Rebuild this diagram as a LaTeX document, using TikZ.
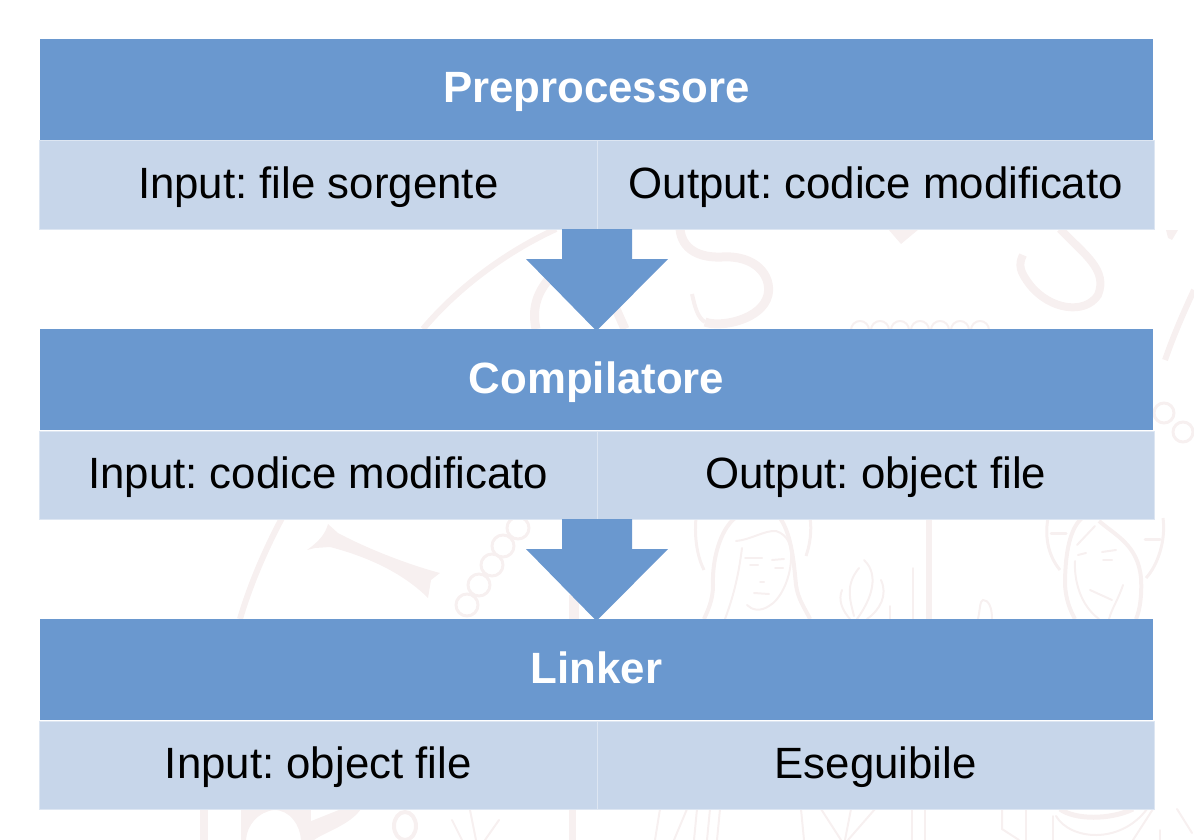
\documentclass[tikz,border=0pt]{standalone}
\usepackage{fontspec}
\setmainfont{Liberation Sans}
\usetikzlibrary{calc}
\definecolor{headblue}{HTML}{6A98CF}
\definecolor{cellblue}{HTML}{C7D6EA}
\definecolor{celledge}{HTML}{DDE6F2}
\definecolor{markpink}{HTML}{F7F0F0}
\tikzset{
  headbox/.style={fill=headblue,text=white,font=\fontsize{43.8}{44}\selectfont\bfseries,outer sep=0pt,
    minimum width=1113pt,minimum height=101pt,inner sep=0pt,anchor=north west,text height=33pt,text depth=6pt},
  cellbox/.style={fill=cellblue,draw=celledge,line width=1pt,font=\fontsize{43.8}{44}\selectfont,outer sep=0pt,
    minimum width=557.5pt,minimum height=88pt,inner sep=0pt,anchor=north west,text height=32pt,text depth=6pt},
  stagearrow/.style={fill=headblue},
  wmark/.style={draw=markpink,line width=2pt,line cap=round},
  wbold/.style={wmark,line width=6pt,line cap=butt},
  wfill/.style={fill=markpink}
}
\begin{document}
\frenchspacing
\begin{tikzpicture}[x=1pt,y=-1pt]
\useasboundingbox (0,0) rectangle (1194,840);
\newcommand{\stage}[5]{
  \node[headbox] (#1) at (40,#2) {#3};
  \node[cellbox] (#1in) at (39.5,#2+102) {#4};
  \node[cellbox] (#1out) at (597,#2+102) {#5};
}

% faint watermark behind everything
% top band: letters
\draw[wbold] (423,329) .. controls (460,285) and (510,250) .. (556,229);
\draw[wbold,line width=9pt] (536,329) .. controls (532,310) and (536,295) .. (548,280);
\draw[wbold,line width=9pt] (612,300) -- (625,329);
\draw[wbold,line width=9pt] (680,229) .. controls (682,250) and (700,258) .. (722,257)
  .. controls (755,255) and (772,275) .. (768,295) .. controls (762,320) and (720,328) .. (705,322);
\draw[wbold,line width=4pt] (705,322) .. controls (698,318) and (695,308) .. (692,294);
\fill[wfill] (888,229) -- (901,244) -- (919,229) -- cycle;
\draw[wbold,line width=8pt] (1060,229) .. controls (1085,255) and (1108,270) .. (1098,295)
  .. controls (1085,315) and (1050,310) .. (1030,285) .. controls (1020,272) and (1018,265) .. (1023,255);
\draw[wbold] (1194,290) .. controls (1180,320) and (1172,340) .. (1165,360);
\fill[wfill] (1166,230) -- (1178,230) -- (1172,240) -- (1168,238) -- cycle;
\foreach \x in {860,880,...,980} {
  \draw[wmark] (\x,330) circle (9);
}
\foreach \x/\y in {1164/413,1183/432} {
  \draw[wmark,line width=3pt] (\x,\y) circle (10);
}
% middle band: bar, beads, faces
\draw[wbold] (282,518) .. controls (265,550) and (250,585) .. (240,619);
\fill[wfill] (328,524) -- (338,533) .. controls (370,550) and (410,565) .. (440,573) -- (431,580)
  -- (428,598) .. controls (410,580) and (380,560) .. (330,547) -- (315,548) -- (307,550)
  .. controls (318,542) and (325,535) .. (328,524) -- cycle;
\foreach \x/\y in {518/528,503/546,492/565,479/585,467/605} {
  \draw[wmark,line width=3pt] (\x,\y) circle (11);
}
\fill[wfill] (569,595) rectangle (579,619);
% left face
\draw[wbold,line width=3pt] (696,518) .. controls (694,540) and (698,558) .. (704,570);
\draw[wbold,line width=3pt] (810,518) .. controls (812,530) and (810,545) .. (806,556);
\draw[wbold,line width=4pt] (735,518) .. controls (720,530) and (712,560) .. (713,585) .. controls (713,600) and (708,610) .. (704,619);
\draw[wbold,line width=4pt] (780,518) .. controls (792,535) and (794,565) .. (796,585) .. controls (798,600) and (806,610) .. (810,619);
\draw[wmark] (736,541) .. controls (750,540) and (765,530) .. (776,531) .. controls (788,535) and (792,545) .. (791,560)
  .. controls (790,580) and (780,600) .. (769,606) .. controls (760,612) and (752,610) .. (747,605);
\draw[wmark] (742,548) .. controls (738,580) and (732,600) .. (725,619);
\draw[wmark] (745,558) -- (762,558);
\draw[wmark] (750,565) -- (758,565);
\draw[wmark] (772,560) -- (784,559);
\draw[wmark] (775,568) -- (783,568);
\draw[wmark] (760,582) -- (764,582);
\draw[wmark] (754,593) -- (769,594);
% flame
\draw[wmark] (864,560) .. controls (875,570) and (878,590) .. (857,619);
\draw[wmark] (859,568) .. controls (845,585) and (850,600) .. (854,616);
\draw[wmark] (842,590) .. controls (838,600) and (842,610) .. (850,619);
\draw[wmark] (881,580) .. controls (888,595) and (880,610) .. (867,619);
\draw[wmark] (890,606) -- (890,619);
\draw[wmark] (913,568) -- (913,619);
\fill[wfill] (926,518) rectangle (932,619);
% hand
\draw[wmark] (978,619) .. controls (980,610) and (980,600) .. (983,600) .. controls (988,600) and (992,606) .. (992,619);
% right face
\draw[wbold,line width=3pt] (1048,518) .. controls (1044,540) and (1050,558) .. (1060,570);
\draw[wbold,line width=3pt] (1163,518) .. controls (1166,540) and (1158,565) .. (1146,578);
\draw[wmark,line width=3pt] (1051,533) -- (1066,533);
\draw[wmark,line width=3pt] (1145,539) -- (1160,539);
\draw[wbold,line width=4pt] (1082,518) .. controls (1068,530) and (1065,560) .. (1065,585) .. controls (1066,600) and (1070,610) .. (1075,619);
\draw[wbold,line width=4pt] (1099,521) .. controls (1115,535) and (1138,545) .. (1141,578) .. controls (1142,595) and (1140,610) .. (1136,619);
\draw[wmark] (1095,526) -- (1077,545);
\draw[wmark] (1075,561) .. controls (1074,580) and (1080,605) .. (1099,619);
\draw[wmark] (1123,585) .. controls (1118,600) and (1112,608) .. (1109,619);
\draw[wmark] (1078,555) -- (1086,553);
\draw[wmark] (1102,552) -- (1116,550);
\draw[wmark] (1103,560) -- (1112,560);
\draw[wmark] (1090,590) -- (1112,600);
% bottom band
\fill[wfill] (200,809) rectangle (208,840);
\fill[wfill] (241,809) -- (361,809) .. controls (350,825) and (325,832) .. (314,840) -- (301,840)
  .. controls (300,825) and (290,810) .. (274,810) .. controls (258,812) and (247,825) .. (246,840) -- (241,840) -- cycle;
\fill[white] (311,821) -- (341,809) -- (311,809) -- cycle;
\draw[wmark,line width=4pt] (405,826) ellipse (11 and 14);
\draw[wmark] (452,820) -- (462,840);
\draw[wmark] (470,810) -- (476,840);
\draw[wmark] (499,820) -- (485,840);
\fill[wfill] (569,809) rectangle (576,840);
\foreach \xa/\xb in {660/655,687/674,697/694,710/707,720/717,801/804,821/841,875/848,851/845} {
  \draw[wmark] (\xa,809) -- (\xb,840);
}
\draw[wmark] (912,809) -- (912,840);
\draw[wmark] (925,809) -- (925,840);
\draw[wmark] (1002,809) -- (1002,829) -- (1019,840);
\draw[wmark] (1026,809) -- (1026,840);
\draw[wmark] (1053,816) -- (1053,840);
\draw[wbold,line width=5pt] (1060,809) .. controls (1075,820) and (1110,820) .. (1133,809);
\draw[wmark] (1056,816) .. controls (1070,840) and (1120,845) .. (1147,809);
\draw[wmark] (1153,809) -- (1133,840);
\draw[wmark] (1177,809) -- (1192,833);
\draw[wmark] (1160,830) -- (1160,840);

% three stages, one under the other
\stage{prep}{39}{Preprocessore}{Input: file sorgente}{Output: codice modificato}
\stage{comp}{329}{Compilatore}{Input: codice modificato}{Output: object file}
\stage{link}{619}{Linker}{Input: object file}{Eseguibile}

% block arrows between the stages
\foreach \from/\to in {prep/comp,comp/link} {
  \fill[stagearrow] ($(\from in.south east)+(-35,0)$) -- ++(0,30) -- ++(-36,0)
    -- ($(\to.north)+(0,2)$) -- ($(\from in.south east)+(71,30)$)
    -- ++(-36,0) -- ++(0,-30) -- cycle;
}
\end{tikzpicture}
\end{document}
